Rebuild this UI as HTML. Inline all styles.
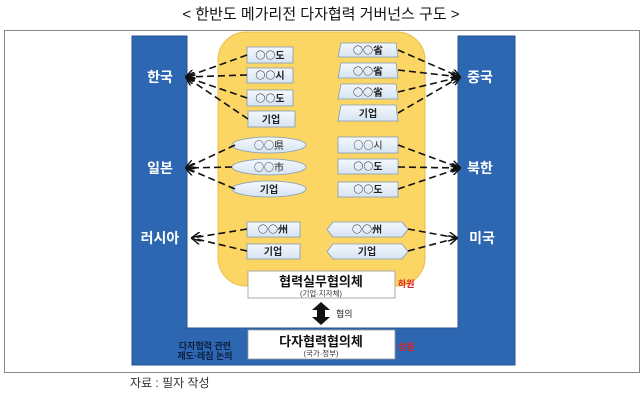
<!DOCTYPE html>
<html><head><meta charset="utf-8"><style>
body{margin:0;background:#fff;}
svg{display:block;font-family:"Liberation Sans","Noto Sans CJK KR",sans-serif;}
.c{font-family:"Noto Sans CJK KR",sans-serif;}
</style></head><body>
<svg width="643" height="400" viewBox="0 0 643 400" xmlns="http://www.w3.org/2000/svg">
<defs>
<linearGradient id="bx" x1="0" y1="0" x2="0" y2="1"><stop offset="0" stop-color="#f4f8fd"/><stop offset="1" stop-color="#d6e4f3"/></linearGradient>
<marker id="ah" viewBox="0 0 10 10" refX="9" refY="5" markerWidth="6" markerHeight="6" orient="auto"><path d="M0,0 L10,5 L0,10" fill="none" stroke="#111" stroke-width="1.5"/></marker>
</defs>
<text x="321" y="19" text-anchor="middle" font-size="15" fill="#111">&lt; 한반도 메가리전 다자협력 거버넌스 구도 &gt;</text>
<rect x="4.5" y="30.5" width="635" height="342" fill="#fff" stroke="#888"/>
<path d="M132,36 H187 V328 H458 V36 H515 V365 H132 Z" fill="#2e67b1" stroke="#25558f"/>
<rect x="218" y="32" width="207" height="254" rx="28" fill="#fbd665" stroke="#e9be4a"/>
<g font-size="14" font-weight="bold" fill="#fff" text-anchor="middle">
<text x="160" y="82">한국</text><text x="160" y="173">일본</text><text x="160" y="243">러시아</text>
<text x="480" y="82">중국</text><text x="480" y="173">북한</text><text x="482" y="243">미국</text>
</g>
<g fill="url(#bx)" stroke="#7f9ab8" stroke-width="0.8">
<rect x="247" y="47" width="46" height="16"/><rect x="247" y="68" width="46" height="15"/><rect x="247" y="90" width="46" height="16"/><rect x="248" y="111" width="47" height="16"/>
<path d="M341,43 H396 L398,57 H338 Z"/><path d="M341,63 H396 L398,78 H338 Z"/><path d="M341,84 H396 L398,99 H338 Z"/><path d="M341,105 H396 L398,121 H338 Z"/>
<ellipse cx="269" cy="145" rx="37" ry="8"/><ellipse cx="269" cy="167" rx="37" ry="8"/><ellipse cx="269" cy="189" rx="37" ry="8"/>
<rect x="338" y="137" width="60" height="16"/><rect x="338" y="159" width="60" height="15"/><rect x="338" y="182" width="60" height="15"/>
<rect x="247" y="222" width="53" height="15"/><rect x="247" y="244" width="53" height="15"/>
<path d="M333,222 H402 L408,229.5 L402,237 H333 L327,229.5 Z"/><path d="M333,244 H402 L408,251.5 L402,259 H333 L327,251.5 Z"/>
</g>
<g font-size="10" font-weight="bold" fill="#222" text-anchor="middle" class="c">
<text x="270" y="59">○○도</text><text x="270" y="79">○○시</text><text x="270" y="102">○○도</text><text x="271" y="123">기업</text>
<text x="368" y="54">○○省</text><text x="368" y="75">○○省</text><text x="368" y="96">○○省</text><text x="368" y="117">기업</text>
<text x="269" y="149" font-weight="normal">○○県</text><text x="269" y="171" font-weight="normal">○○市</text><text x="269" y="193">기업</text>
<text x="368" y="149" font-weight="normal">○○시</text><text x="368" y="170">○○도</text><text x="368" y="193">○○도</text>
<text x="273" y="233">○○州</text><text x="273" y="255">기업</text><text x="367" y="233">○○州</text><text x="367" y="255">기업</text>
</g>
<g stroke="#111" stroke-width="1.6" stroke-dasharray="7,4" fill="none" marker-end="url(#ah)">
<line x1="247" y1="55" x2="186" y2="77"/><line x1="247" y1="75" x2="186" y2="77"/><line x1="247" y1="98" x2="186" y2="77"/><line x1="248" y1="119" x2="186" y2="77"/>
<line x1="398" y1="50" x2="460" y2="77"/><line x1="398" y1="70" x2="460" y2="77"/><line x1="398" y1="92" x2="460" y2="77"/><line x1="398" y1="113" x2="460" y2="77"/>
<line x1="235" y1="145" x2="186" y2="168"/><line x1="232" y1="167" x2="186" y2="168"/><line x1="235" y1="189" x2="186" y2="168"/>
<line x1="398" y1="145" x2="460" y2="168"/><line x1="398" y1="167" x2="460" y2="168"/><line x1="398" y1="189" x2="460" y2="168"/>
<line x1="247" y1="229" x2="192" y2="238"/><line x1="247" y1="251" x2="192" y2="238"/>
<line x1="408" y1="229" x2="457" y2="238"/><line x1="408" y1="251" x2="457" y2="238"/>
</g>
<rect x="248" y="271" width="147" height="27" fill="#fff" stroke="#999" stroke-width="0.8"/>
<text x="321" y="286" text-anchor="middle" font-size="13" font-weight="bold" fill="#111">협력실무협의체</text>
<text x="321" y="296" text-anchor="middle" font-size="7.5" fill="#333">(기업·지자체)</text>
<rect x="248" y="330" width="147" height="29" fill="#fff" stroke="#999" stroke-width="0.8"/>
<text x="321" y="346" text-anchor="middle" font-size="13" font-weight="bold" fill="#111">다자협력협의체</text>
<text x="321" y="356" text-anchor="middle" font-size="7.5" fill="#333">(국가·정부)</text>
<path d="M321,302 L330,310 H325 V317 H330 L321,325 L312,317 H317 V310 H312 Z" fill="#111"/>
<text x="336" y="317" font-size="9" fill="#222">협의</text>
<text x="398" y="287" font-size="9" font-weight="bold" fill="#e02020">하원</text>
<text x="398" y="350" font-size="9" font-weight="bold" fill="#e02020">상원</text>
<text x="205" y="349" text-anchor="middle" font-size="9" font-weight="bold" fill="#0d1f40">다자협력 관련</text>
<text x="205" y="359" text-anchor="middle" font-size="9" font-weight="bold" fill="#0d1f40">제도·레짐 논의</text>
<text x="130" y="387" font-size="12" fill="#333">자료 : 필자 작성</text>
</svg>
</body></html>
